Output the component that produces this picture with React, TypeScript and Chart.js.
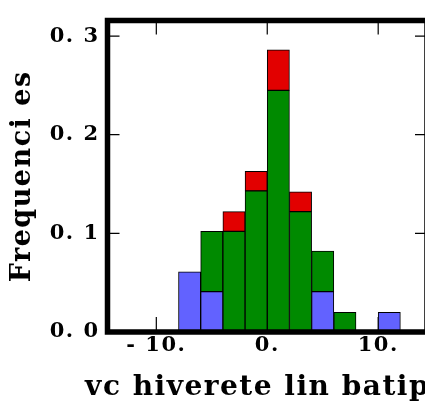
import React, { useEffect, useRef } from "react";
import { Chart, registerables } from "chart.js";

Chart.register(...registerables);

// Histogram bins (centers of 2-wide bins) and frequencies per group
const binCenters = [-7, -5, -3, -1, 1, 3, 5, 7, 9, 11];
const blueValues = [0.061, 0.041, null, null, null, null, 0.041, null, null, 0.02];
const greenValues = [null, 0.061, 0.102, 0.143, 0.245, 0.122, 0.041, 0.02, null, null];
const redValues = [null, null, 0.02, 0.02, 0.041, 0.02, null, null, null, null];

const xTickValues = [-10, 0, 10];
const xTickLabels = ["- 10.", "0.", "10."];
const yTickValues = [0, 0.1, 0.2, 0.3];
const yTickLabels = ["0. 0", "0. 1", "0. 2", "0. 3"];

const xTitle = "vc hiverete lin batipe";
const yTitle = "Frequenci es";

const X_MIN = -14.4;
const X_MAX = 14.4;
const Y_MAX = 0.3157;

const toPoints = (vals: (number | null)[]) =>
  binCenters.map((x, i) => ({ x, y: vals[i] }));

const framePlugin = {
  id: "framePlugin",
  beforeDraw(chart: any) {
    chart.ctx.letterSpacing = "1.5px";
  },
  afterDraw(chart: any) {
    const { ctx, chartArea } = chart;
    ctx.save();
    ctx.letterSpacing = "1.5px";
    ctx.font = "bold 28px 'DejaVu Serif'";
    ctx.fillStyle = "#000";
    ctx.textAlign = "center";
    ctx.textBaseline = "alphabetic";
    ctx.fillText(xTitle, (chartArea.left + chartArea.right) / 2, 395);
    ctx.restore();
    ctx.letterSpacing = "0px";
  },
  beforeDatasetsDraw(chart: any) {
    const { ctx, chartArea, scales } = chart;
    const { left, right, top, bottom } = chartArea;
    ctx.save();
    ctx.strokeStyle = "#000";
    ctx.lineWidth = 1.2;
    ctx.beginPath();
    xTickValues.forEach((v) => {
      const px = scales.x.getPixelForValue(v);
      ctx.moveTo(px, bottom);
      ctx.lineTo(px, bottom - 15);
      ctx.moveTo(px, top);
      ctx.lineTo(px, top + 14);
    });
    yTickValues.forEach((v) => {
      const py = scales.y.getPixelForValue(v);
      ctx.moveTo(left, py);
      ctx.lineTo(left + 12, py);
      ctx.moveTo(right, py);
      ctx.lineTo(right - 12, py);
    });
    ctx.stroke();
    ctx.restore();
  },
  afterDatasetsDraw(chart: any) {
    const { ctx, chartArea } = chart;
    const { left, right, top, bottom } = chartArea;
    ctx.save();
    ctx.strokeStyle = "#000";
    ctx.lineWidth = 5.5;
    ctx.lineCap = "square";
    ctx.beginPath();
    ctx.moveTo(left, bottom);
    ctx.lineTo(left, top);
    ctx.lineTo(right, top);
    ctx.lineTo(right, bottom);
    ctx.closePath();
    ctx.stroke();
    ctx.restore();
  },
};

export default function App() {
  const canvasRef = useRef<HTMLCanvasElement | null>(null);

  useEffect(() => {
    const canvas = canvasRef.current;
    if (!canvas) return;
    const tickFont = { family: "'DejaVu Serif'", size: 21, weight: "bold" as const };
    const titleFont = { family: "'DejaVu Serif'", size: 27, weight: "bold" as const };
    const common = {
      borderColor: "#000",
      borderWidth: 1,
      borderSkipped: false,
      barPercentage: 1,
      categoryPercentage: 1,
    };
    const chart = new Chart(canvas, {
      type: "bar",
      data: {
        datasets: [
          { ...common, label: "blue", data: toPoints(blueValues), backgroundColor: "#6262ff" },
          { ...common, label: "green", data: toPoints(greenValues), backgroundColor: "#008a00" },
          { ...common, label: "red", data: toPoints(redValues), backgroundColor: "#e20000" },
        ] as any,
      },
      options: {
        animation: false,
        responsive: false,
        devicePixelRatio: 1,
        layout: { padding: { top: 10, right: 18, bottom: 0, left: 0 } },
        plugins: { legend: { display: false }, tooltip: { enabled: false } },
        scales: {
          x: {
            type: "linear",
            stacked: true,
            offset: false,
            min: X_MIN,
            max: X_MAX,
            grid: { display: false, drawTicks: false, offset: false },
            border: { display: false },
            afterBuildTicks: (s: any) => {
              s.ticks = xTickValues.map((v) => ({ value: v }));
            },
            afterFit: (s: any) => {
              s.height = 71;
            },
            ticks: {
              autoSkip: false,
              maxRotation: 0,
              padding: 1,
              color: "#000",
              font: tickFont,
              callback: (_v: any, i: number) => xTickLabels[i],
            },
            title: { display: false },
          },
          y: {
            type: "linear",
            stacked: true,
            min: 0,
            max: Y_MAX,
            grid: { display: false, drawTicks: false },
            border: { display: false },
            afterBuildTicks: (s: any) => {
              s.ticks = yTickValues.map((v) => ({ value: v }));
            },
            afterFit: (s: any) => {
              s.width = 107.5;
            },
            ticks: {
              autoSkip: false,
              padding: 8,
              color: "#000",
              font: tickFont,
              callback: (_v: any, i: number) => yTickLabels[i],
            },
            title: {
              display: true,
              text: yTitle,
              color: "#000",
              font: titleFont,
              padding: { top: 7, bottom: 0 },
            },
          },
        },
      } as any,
      plugins: [framePlugin],
    });
    return () => chart.destroy();
  }, []);

  return (
    <div style={{ position: "fixed", left: 0, top: 0, width: 445, height: 403, background: "#fff" }}>
      <canvas ref={canvasRef} width={445} height={403} style={{ display: "block" }} />
    </div>
  );
}
